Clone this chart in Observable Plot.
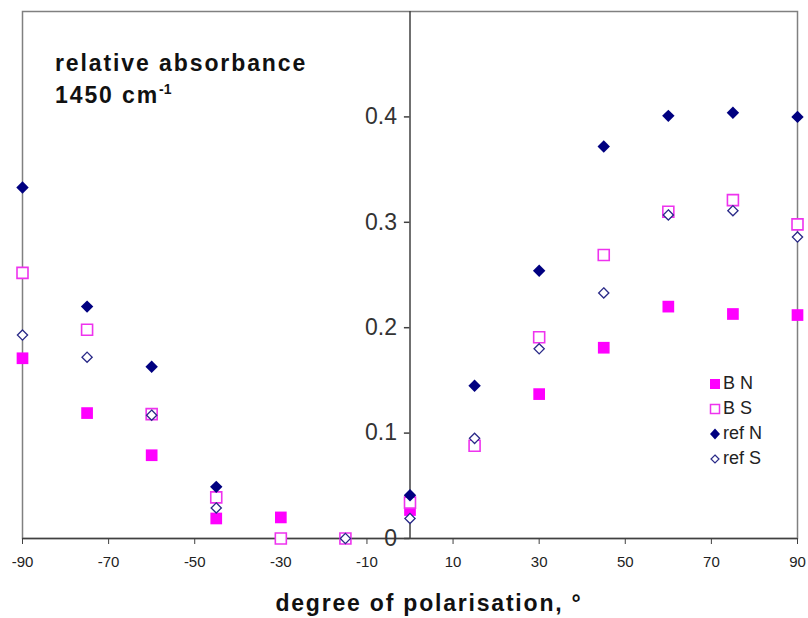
<!DOCTYPE html>
<html>
<head>
<meta charset="utf-8">
<script src="https://cdn.jsdelivr.net/npm/d3@7"></script>
<script src="https://cdn.jsdelivr.net/npm/@observablehq/plot@0.6"></script>
<style>
  body { margin: 0; background: #fff; }
  #wrap { position: relative; width: 808px; height: 618px; font-family: "Liberation Sans", Arial, sans-serif; }
  #title { position: absolute; left: 55px; top: 47px; font-size: 23px; font-weight: bold; line-height: 32px; letter-spacing: 1.9px; color: #111; }
  #title sup { font-size: 14px; vertical-align: 0; position: relative; top: -9px; letter-spacing: 0; }
  #legend { position: absolute; left: 708px; top: 371px; font-size: 18px; color: #222; }
  #legend div { height: 25px; display: flex; align-items: center; }
  #legend svg { margin-right: 1px; }
</style>
</head>
<body>
<div id="wrap">
  <div id="chart"></div>
  <div id="title">relative absorbance<br>1450 cm<sup>-1</sup></div>
  <div id="legend"></div>
</div>
<script>
// polarisation angle (degrees)
const angles = [-90, -75, -60, -45, -30, -15, 0, 15, 30, 45, 60, 75, 90];
// series values (relative absorbance); null = no point
const bN   = [0.171, 0.119, 0.079, 0.019, 0.020, null, 0.027, null, 0.137, 0.181, 0.220, 0.213, 0.212];
const bS   = [0.252, 0.198, 0.118, 0.039, 0.000, 0.000, 0.034, 0.088, 0.191, 0.269, 0.310, 0.321, 0.298];
const refN = [0.333, 0.220, 0.163, 0.049, null, null, 0.041, 0.145, 0.254, 0.372, 0.401, 0.404, 0.400];
const refS = [0.193, 0.172, 0.117, 0.029, null, 0.000, 0.019, 0.095, 0.180, 0.233, 0.307, 0.311, 0.286];
const seriesNames = ["B N", "B S", "ref N", "ref S"];
const xTicks = [-90, -70, -50, -30, -10, 10, 30, 50, 70, 90];
const yTicks = [0, 0.1, 0.2, 0.3, 0.4];

const squareSym = { draw(ctx, size) { const w = Math.sqrt(size) / 2; ctx.moveTo(-w, -w); ctx.lineTo(w, -w); ctx.lineTo(w, w); ctx.lineTo(-w, w); ctx.closePath(); } };
const diamondSym = { draw(ctx, size) { const r = Math.sqrt(size) * 0.62625; ctx.moveTo(0, -r); ctx.lineTo(r, 0); ctx.lineTo(0, r); ctx.lineTo(-r, 0); ctx.closePath(); } };

const toRows = vals => angles.map((a, i) => ({a, v: vals[i]})).filter(d => d.v != null);

const styles = [
  {symbol: squareSym, r: 6.6, fill: "#ff00ff", stroke: "none"},
  {symbol: squareSym, r: 6.2, fill: "white", stroke: "#ee33ee", strokeWidth: 1.6},
  {symbol: diamondSym, r: 5.6, fill: "#000080", stroke: "none"},
  {symbol: diamondSym, r: 4.6, fill: "white", stroke: "#2a2a88", strokeWidth: 1.3}
];
const data = [bN, bS, refN, refS];

const chart = Plot.plot({
  width: 808, height: 618,
  marginLeft: 22, marginRight: 11, marginTop: 11, marginBottom: 80,
  style: {fontFamily: "'Liberation Sans', Arial, sans-serif", background: "white", color: "#222"},
  x: {domain: [-90, 90]},
  y: {domain: [0, 0.5]},
  marks: [
    Plot.frame({stroke: "#808080", strokeWidth: 1.5}),
    Plot.ruleY([0], {stroke: "#404040", strokeWidth: 1.5}),
    Plot.ruleX([0], {stroke: "#404040", strokeWidth: 1.5}),
    Plot.axisX(xTicks, {tickSize: 6, tickPadding: 12, fontSize: 15, label: null, tickFormat: d => String(d), stroke: "#404040"}),
    Plot.axisY({ticks: [], label: null, tickSize: 0}),
    Plot.ruleY(yTicks, {x1: -1.3, x2: 0, stroke: "#404040", strokeWidth: 1.5}),
    Plot.text(yTicks, {x: () => 0, y: d => d, text: d => String(d), dx: -13, textAnchor: "end", fontSize: 23, fill: "#333"}),
    ...data.map((vals, k) => Plot.dot(toRows(vals), {x: "a", y: "v", ...styles[k]})),
    Plot.text(["degree of polarisation, °"], {frameAnchor: "bottom", dx: 19, dy: 72, fontSize: 23, fontWeight: "bold", fill: "#111"})
  ]
});
chart.querySelectorAll("text").forEach(t => { if (t.textContent.startsWith("degree")) t.setAttribute("letter-spacing", "1.8"); });
document.getElementById("chart").appendChild(chart);

// legend
const leg = document.getElementById("legend");
const sw = [
  '<rect x="2" y="2" width="10" height="10" fill="#ff00ff"/>',
  '<rect x="2.5" y="2.5" width="9" height="9" fill="white" stroke="#ee33ee" stroke-width="1.5"/>',
  '<path d="M7 1.5L12 7L7 12.5L2 7Z" fill="#000080"/>',
  '<path d="M7 3L11 7L7 11L3 7Z" fill="white" stroke="#2a2a88" stroke-width="1.2"/>'
];
seriesNames.forEach((n, k) => {
  const row = document.createElement("div");
  row.innerHTML = `<svg width="14" height="14">${sw[k]}</svg><span>${n}</span>`;
  leg.appendChild(row);
});
</script>
</body>
</html>
